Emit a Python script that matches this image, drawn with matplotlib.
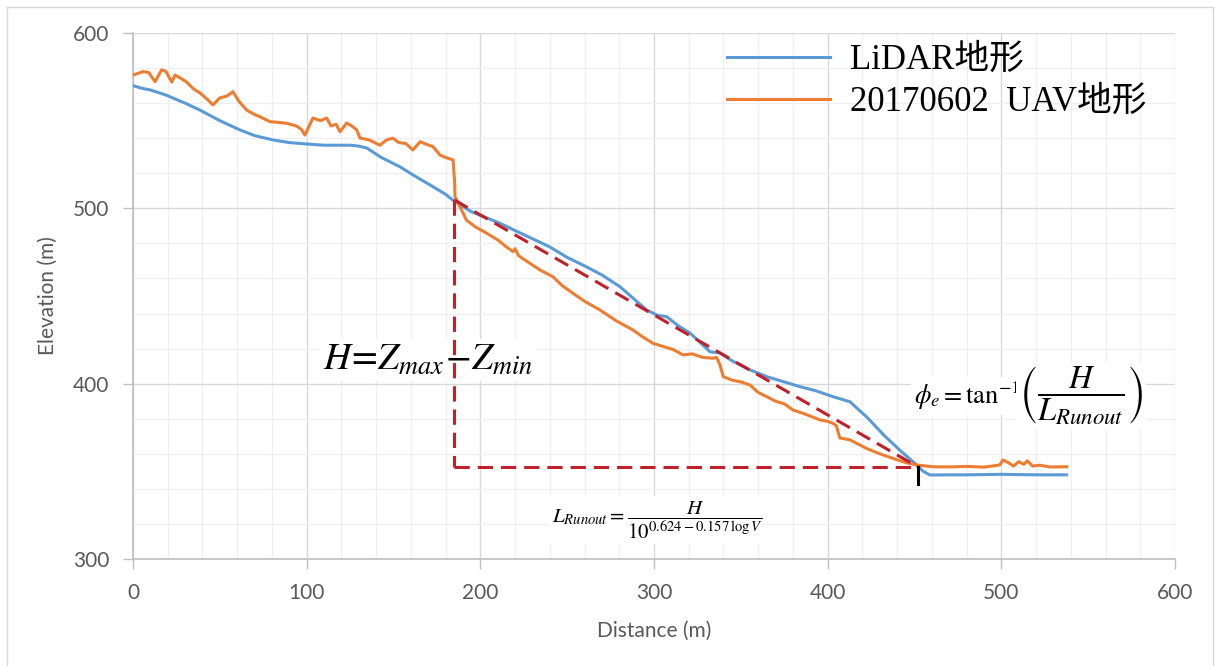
import matplotlib
matplotlib.use("Agg")
import matplotlib.pyplot as plt
from matplotlib.lines import Line2D

plt.rcParams["mathtext.fontset"] = "stix"

# --- data ---
lidar_dist = [0, 5, 10, 19, 30, 38.6, 50, 61.6, 70, 80.6, 90, 100, 110, 125, 130,
              134.6, 143, 153.7, 163, 172.8, 180, 184, 195, 211, 225, 240, 250,
              261, 270, 280.4, 290, 295.8, 302, 307.3, 314, 320.7, 326, 332.2,
              338, 345, 355, 364.9, 375, 384, 393, 403, 412.8, 418, 422.5, 432,
              441.6, 451.3, 455, 458.9, 470, 480, 500, 520, 537.6]
lidar_elev = [570, 568.5, 567.5, 564.6, 560, 556, 550, 544.7, 541.5, 539, 537.5,
              536.7, 536, 536, 535.5, 534.4, 529, 523.7, 518, 512.3, 508, 504.8,
              498, 491.6, 485, 478, 472, 466.7, 462, 455.3, 447, 442, 439, 438.2,
              433, 428.9, 424, 418.2, 417.5, 413, 408, 404, 401, 398.3, 396,
              392.6, 389.7, 385, 381, 371, 362, 353.6, 350, 347.9, 348, 348,
              348.3, 348, 348]

uav_dist = [0, 3, 5.8, 9, 12.7, 16.5, 19, 22.3, 24.2, 27, 30.9, 35, 38.6, 43, 46,
            50, 54, 57.6, 61, 65.5, 70, 73, 78.9, 84, 88.5, 94, 97, 99, 103.6,
            108, 111.5, 114, 117, 119.2, 123, 126, 128.8, 130.7, 136, 142.2, 146,
            149.7, 153, 157, 161.2, 165.3, 169, 172.7, 176.8, 180, 184.3, 185.2,
            185.4, 186.4, 192, 197, 203.7, 210, 215, 218.8, 220, 222, 228, 234.4,
            241.8, 247, 253.4, 260, 268.9, 278, 287.9, 293, 299.4, 306, 311,
            316.7, 322, 328, 334, 336, 338, 339.9, 345, 350, 355.3, 360, 364.9,
            370, 375, 380, 386, 390, 395.6, 400, 403, 405, 407, 410, 412.9,
            422.5, 430, 437.6, 445, 451.3, 460.6, 470, 480, 490, 499, 501, 504,
            507, 510, 513, 515, 518, 522, 528, 537.6]
uav_elev = [576, 577, 578, 577.5, 572.2, 579, 578, 572, 576, 574.5, 572, 568,
            565.8, 562, 559, 563, 564, 566.5, 561, 556, 553.5, 552.3, 549.4, 549,
            548.5, 547, 545, 541.8, 551.5, 550, 551.5, 547, 548, 543.7, 548.6,
            547, 544.7, 540.1, 539, 536, 539, 540, 537.5, 537, 533.3, 538, 536.5,
            535.2, 530.4, 529, 527.6, 515, 506.6, 504.8, 493.3, 489.5, 485.8,
            482, 478, 475.3, 477, 473, 469, 464.8, 461, 456, 451.5, 447, 442,
            436, 430.6, 427, 423, 421, 419.5, 416.4, 417, 415, 414.5, 415, 410.6,
            404, 402, 401, 399.2, 395, 392.6, 390, 388.5, 385, 383, 381.5, 379.3,
            378.5, 377.4, 376, 369, 368.5, 367.9, 363, 360, 357.4, 355, 353.6,
            352.6, 352.5, 352.8, 352.4, 353.6, 356.5, 355, 353, 355.5, 354, 356,
            353, 353.5, 352.5, 352.6]

# runout geometry (top of scarp and toe)
top_x, top_z = 185, 504.8
toe_x, toe_z = 452, 352.5

series_labels = ["LiDAR地形", "20170602  UAV地形"]

fig = plt.figure(figsize=(12.15, 6.66), dpi=100)
ax = fig.add_axes([133 / 1215, 1 - 559 / 666, 1042 / 1215, 526 / 666])

ax.set_xlim(0, 600)
ax.set_ylim(300, 600)
ax.set_xticks(range(0, 601, 100))
ax.set_yticks(range(300, 601, 100))
ax.set_xticks(range(0, 601, 20), minor=True)
ax.set_yticks(range(300, 601, 20), minor=True)

ax.grid(which="major", color="#D9D9D9", lw=1.0, zorder=0)
ax.grid(which="minor", color="#EFEFEF", lw=0.9, zorder=0)
ax.set_axisbelow(True)

for s in ["top", "right"]:
    ax.spines[s].set_visible(False)
for s in ["left", "bottom"]:
    ax.spines[s].set_color("#BFBFBF")
    ax.spines[s].set_linewidth(1.2)

ax.tick_params(which="major", length=7, width=1, color="#BFBFBF",
               labelcolor="#595959", labelsize=15, pad=10)
ax.tick_params(which="minor", length=0)
for lab in ax.get_xticklabels() + ax.get_yticklabels():
    lab.set_family("Lato")

# --- profiles ---
ax.plot(lidar_dist, lidar_elev, color="#5B9BD5", lw=2.2, zorder=4,
        label=series_labels[0])
ax.plot(uav_dist, uav_elev, color="#ED7D31", lw=2.2, zorder=4,
        label=series_labels[1])

# --- H / runout construction ---
red = "#C0202A"
dash = (5, 2.6)
ax.plot([top_x, top_x], [top_z, toe_z], color=red, lw=2.2, dashes=dash, zorder=6)
ax.plot([top_x, toe_x], [toe_z, toe_z], color=red, lw=2.2, dashes=dash, zorder=6)
ax.plot([top_x, toe_x], [top_z, toe_z], color=red, lw=2.2, dashes=dash, zorder=6)
ax.plot([toe_x, toe_x], [toe_z, 343], color="black", lw=2.2, zorder=7)

# --- formulas ---
box = dict(facecolor="white", edgecolor="none", pad=2)
ax.text(109.4, 407.8, r"$H\!=\!Z_{max}\!-\!Z_{min}$", fontsize=27,
        ha="left", va="baseline", zorder=5, bbox=box)
ax.text(511, 393, r"$\phi_e=\tan^{-1}$", fontsize=19, ha="right",
        va="center", zorder=5, bbox=box)
ax.text(510, 393, r"$\left(\dfrac{H}{L_{Runout}}\right)$", fontsize=23.5,
        ha="left", va="center", zorder=5, bbox=box)
ax.text(301.7, 322.2, r"$L_{Runout}=\dfrac{H}{10^{0.624-0.157\,\log V}}$",
        fontsize=15, ha="center", va="center", zorder=5, bbox=box)

# --- axis titles ---
fig.text(654 / 1215, 1 - 631 / 666, "Distance (m)", ha="center", va="center",
         fontsize=15, color="#595959", family="Lato")
fig.text(48 / 1215, 1 - 296 / 666, "Elevation (m)", ha="center", va="center",
         rotation=90, fontsize=15, color="#595959", family="Lato")

leg = ax.legend(loc="upper left", bbox_to_anchor=(727 / 1215, 1 - 44 / 666),
                bbox_transform=fig.transFigure, frameon=False, borderpad=0,
                borderaxespad=0, handlelength=2.97, handletextpad=0.58,
                labelspacing=0.25,
                prop={"family": ["Liberation Serif", "Noto Sans CJK SC"],
                      "size": 25})

# light outer frame
for xs, ys in [([7, 1213], [659, 659]), ([7, 7], [0, 659]), ([1213, 1213], [0, 659])]:
    fig.add_artist(Line2D([x / 1215 for x in xs], [y / 666 for y in ys],
                          color="#D9D9D9", lw=1))

fig.savefig("out.png", dpi=100)
